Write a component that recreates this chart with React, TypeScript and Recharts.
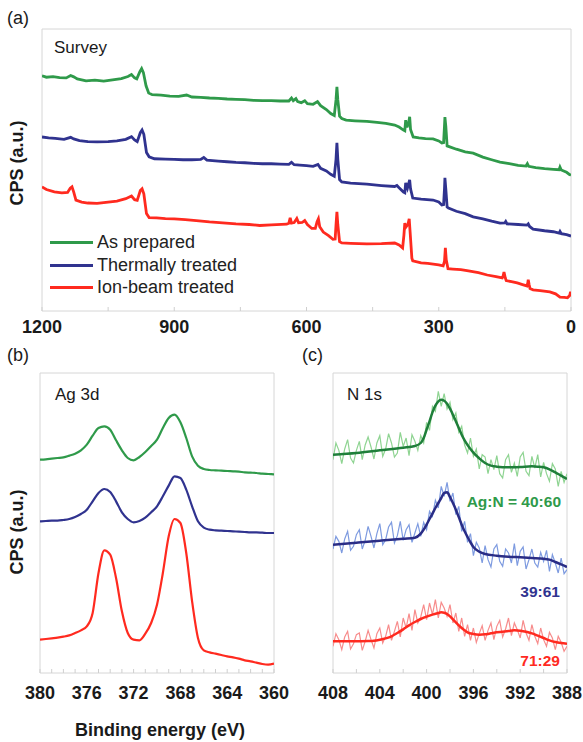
import React from "react"
import { LineChart, Line, XAxis, YAxis, ReferenceArea } from "recharts"

const FONT = "'Liberation Sans', Arial, sans-serif"

const GREEN = "#2f9a4a"
const BLUE = "#30338f"
const RED = "#ff2a1f"
const GREEN_FIT = "#1f7f3a"
const BLUE_FIT = "#2a2d86"
const GREEN_RAW = "#8fd492"
const BLUE_RAW = "#7e9be0"
const RED_RAW = "#f78c8c"

const seriesNames = ["As prepared", "Thermally treated", "Ion-beam treated"]
const ratioLabels = ["Ag:N = 40:60", "39:61", "71:29"]

const surveyTicks = [1200, 1050, 900, 750, 600, 450, 300, 150, 0]
const ag3dTicks = [380, 379, 378, 377, 376, 375, 374, 373, 372, 371, 370, 369, 368, 367, 366, 365, 364, 363, 362, 361, 360]
const n1sTicks = [408, 406, 404, 402, 400, 398, 396, 394, 392, 390, 388]

// survey, [binding energy, counts a.u.]
const surveyAsPrepared = [
  [1200, 712], [1190, 708], [1175, 710], [1160, 707], [1145, 706], [1135, 713], [1128, 709], [1120, 703],
  [1100, 697], [1080, 699], [1060, 696], [1040, 700], [1020, 704], [1005, 710], [997, 716], [990, 706],
  [985, 703], [978, 725], [974, 734], [970, 722], [964, 682], [958, 660], [950, 655], [930, 654],
  [910, 651], [890, 650], [872, 654], [860, 648], [840, 647], [820, 645], [800, 644], [780, 642],
  [760, 641], [740, 640], [720, 638], [700, 637], [680, 637], [660, 636], [640, 636], [634, 645],
  [630, 637], [624, 643], [620, 634], [612, 631], [604, 637], [598, 628], [585, 626], [575, 634],
  [568, 622], [555, 610], [545, 598], [537, 592], [533, 640], [531, 679], [529, 640], [525, 590],
  [520, 583], [510, 578], [490, 576], [463, 574], [440, 571], [420, 568], [400, 563], [390, 557],
  [380, 548], [377, 546], [375, 578], [372, 556], [368, 572], [366, 588], [364, 550], [358, 527],
  [345, 524], [330, 522], [313, 521], [300, 515], [293, 509], [289, 510], [287, 560], [286, 587],
  [284, 560], [281, 500], [275, 497], [260, 490], [240, 482], [222, 478], [200, 466], [180, 458],
  [161, 451], [140, 446], [120, 441], [102, 439], [99, 446], [96, 438], [80, 434], [60, 431],
  [40, 429], [27, 428], [25, 436], [22, 427], [10, 420], [3, 413], [0, 412],
]

const surveyThermal = [
  [1200, 527], [1185, 524], [1170, 523], [1150, 520], [1135, 526], [1128, 521], [1115, 516], [1096, 513],
  [1075, 512], [1050, 513], [1030, 515], [1010, 520], [997, 528], [990, 518], [984, 513], [977, 540],
  [973, 548], [969, 535], [963, 480], [957, 467], [945, 461], [920, 460], [900, 459], [880, 458],
  [860, 458], [840, 459], [833, 465], [826, 457], [800, 454], [780, 452], [760, 450], [740, 449],
  [720, 447], [700, 446], [680, 446], [660, 445], [640, 444], [634, 450], [628, 443], [615, 442],
  [600, 440], [585, 438], [574, 444], [568, 432], [555, 424], [545, 414], [537, 408], [533, 460],
  [531, 509], [529, 460], [525, 398], [520, 391], [500, 387], [463, 384], [430, 380], [400, 377],
  [395, 380], [390, 373], [380, 360], [377, 358], [375, 388], [371, 372], [366, 397], [364, 370],
  [359, 342], [340, 339], [313, 336], [300, 330], [293, 321], [289, 322], [287, 370], [286, 403],
  [284, 370], [281, 315], [278, 312], [260, 302], [240, 295], [222, 285], [200, 279], [180, 272],
  [161, 266], [150, 267], [148, 271], [145, 264], [120, 262], [100, 260], [97, 264], [94, 256],
  [86, 248], [60, 243], [40, 240], [27, 236], [25, 241], [22, 234], [10, 231], [0, 227],
]

const surveyIonBeam = [
  [1200, 376], [1190, 368], [1172, 361], [1155, 358], [1142, 359], [1136, 372], [1132, 376], [1128, 360],
  [1123, 336], [1110, 330], [1096, 327], [1075, 326], [1050, 330], [1030, 333], [1010, 340], [997, 348],
  [990, 337], [984, 335], [977, 365], [973, 370], [969, 355], [963, 295], [957, 283], [940, 282],
  [920, 280], [900, 279], [875, 277], [850, 274], [820, 270], [790, 267], [760, 264], [730, 262],
  [706, 259], [680, 261], [645, 263], [640, 266], [637, 282], [634, 266], [628, 268], [622, 280],
  [618, 267], [610, 268], [604, 274], [598, 262], [588, 250], [580, 250], [576, 270], [573, 279],
  [570, 255], [562, 239], [550, 228], [540, 217], [535, 218], [533, 262], [531, 300], [529, 262],
  [525, 210], [520, 206], [500, 205], [463, 203], [430, 204], [400, 206], [390, 200], [382, 191],
  [379, 230], [377, 266], [374, 255], [370, 262], [367, 279], [365, 240], [361, 160], [359, 152],
  [340, 146], [325, 144], [300, 140], [290, 137], [287, 150], [285, 191], [283, 155], [279, 128],
  [268, 127], [250, 125], [236, 122], [210, 116], [190, 109], [170, 104], [156, 100], [154, 106],
  [152, 118], [149, 100], [147, 92], [135, 89], [122, 85], [110, 80], [100, 76], [98, 85],
  [97, 95], [95, 80], [93, 68], [86, 64], [70, 62], [48, 58], [35, 52], [25, 42],
  [15, 41], [8, 40], [3, 47], [1, 58], [0, 52],
]

// Ag 3d
const agEnergy = [
  380, 379.5, 379, 378.5, 378, 377.5, 377, 376.5, 376, 375.5, 375, 374.5, 374, 373.5, 373, 372.5, 372,
  371.5, 371, 370.5, 370, 369.5, 369, 368.5, 368, 367.5, 367, 366.5, 366, 365.5, 365, 364.5, 364,
  363.5, 363, 362.5, 362, 361.5, 361, 360.5, 360,
]
const agAsPrepared = [
  640, 641, 643, 645, 647, 652, 658, 668, 685, 712, 735, 740, 730, 698, 668, 645, 638,
  648, 663, 681, 700, 735, 765, 775, 752, 705, 650, 622, 612, 609, 608, 607, 606,
  605, 604, 602, 601, 600, 598, 597, 596,
]
const agThermal = [
  455, 456, 457, 457, 459, 462, 468, 477, 490, 515, 540, 552, 543, 515, 482, 462, 452,
  456, 466, 482, 500, 530, 562, 590, 585, 550, 500, 455, 436, 430, 428, 427, 426,
  425, 424, 423, 422, 422, 421, 420, 420,
]
const agIonBeam = [
  100, 102, 104, 106, 109, 113, 120, 128, 140, 180, 300, 368, 355, 285, 185, 120, 100,
  98, 118, 150, 205, 300, 410, 462, 450, 360, 215, 105, 68, 62, 58, 54, 50,
  47, 43, 38, 35, 31, 27, 25, 28,
]

// N 1s raw counts
const nEnergy = [
  408, 407.75, 407.5, 407.25, 407, 406.75, 406.5, 406.25, 406, 405.75, 405.5, 405.25, 405, 404.75,
  404.5, 404.25, 404, 403.75, 403.5, 403.25, 403, 402.75, 402.5, 402.25, 402, 401.75, 401.5, 401.25,
  401, 400.75, 400.5, 400.25, 400, 399.75, 399.5, 399.25, 399, 398.75, 398.5, 398.25, 398, 397.75,
  397.5, 397.25, 397, 396.75, 396.5, 396.25, 396, 395.75, 395.5, 395.25, 395, 394.75, 394.5, 394.25,
  394, 393.75, 393.5, 393.25, 393, 392.75, 392.5, 392.25, 392, 391.75, 391.5, 391.25, 391, 390.75,
  390.5, 390.25, 390, 389.75, 389.5, 389.25, 389, 388.75, 388.5, 388.25, 388,
]
const nRawAsPrepared = [
  640, 690, 668, 628, 672, 700, 645, 630, 668, 695, 640, 684, 708, 678,
  642, 690, 712, 650, 672, 718, 690, 648, 660, 722, 680, 705, 652, 715,
  695, 668, 712, 690, 752, 728, 800, 785, 845, 800, 838, 792, 812, 760,
  780, 722, 740, 684, 660, 705, 650, 672, 612, 655, 648, 598, 640, 610,
  652, 598, 585, 640, 655, 602, 630, 590, 648, 662, 605, 592, 650, 615,
  655, 588, 632, 598, 575, 628, 612, 560, 605, 572, 598,
]
const nRawThermal = [
  372, 410, 395, 360, 402, 425, 368, 380, 415, 430, 372, 398, 440, 410,
  375, 418, 448, 385, 400, 438, 452, 390, 412, 455, 398, 430, 445, 392,
  420, 448, 410, 452, 430, 485, 470, 518, 495, 560, 530, 572, 515, 540,
  475, 500, 425, 455, 392, 418, 352, 392, 375, 330, 382, 340, 318, 372,
  385, 335, 320, 372, 360, 330, 388, 322, 365, 378, 312, 340, 372, 330,
  318, 362, 335, 368, 305, 355, 330, 300, 345, 298, 310,
]
const nRawIonBeam = [
  80, 118, 100, 70, 108, 125, 72, 88, 115, 120, 68, 95, 128, 100,
  75, 118, 135, 90, 110, 145, 98, 125, 155, 108, 165, 135, 178, 128,
  190, 150, 168, 205, 160, 210, 175, 220, 165, 212, 195, 170, 205, 150,
  180, 125, 165, 110, 145, 98, 135, 92, 118, 142, 98, 128, 150, 100,
  140, 158, 108, 132, 165, 112, 150, 130, 105, 158, 120, 98, 145, 110,
  88, 135, 100, 80, 122, 105, 70, 110, 92, 65, 80,
]

// N 1s fitted envelopes
const nFitAsPrepared = [
  [408, 655], [406, 660], [404, 668], [402, 676], [401, 681], [400.5, 690], [400.25, 705], [400, 730],
  [399.75, 755], [399.5, 782], [399.25, 802], [399, 815], [398.75, 820], [398.5, 817], [398.25, 808],
  [398, 793], [397.75, 775], [397.5, 755], [397.25, 735], [397, 715], [396.75, 698], [396.5, 684],
  [396.25, 672], [396, 661], [395.5, 644], [395, 630], [394.5, 622], [394, 619], [393, 617], [392, 618],
  [391, 620], [390.5, 619], [390, 617], [389.5, 611], [389, 602], [388.5, 592], [388, 582],
]
const nFitThermal = [
  [408, 385], [406, 391], [404, 397], [402, 403], [401, 406], [400.5, 418], [400.25, 430], [400, 445],
  [399.75, 462], [399.5, 478], [399.25, 495], [399, 510], [398.75, 525], [398.5, 540], [398.25, 542],
  [398, 528], [397.75, 510], [397.5, 490], [397.25, 468], [397, 445], [396.75, 425], [396.5, 408],
  [396.25, 392], [396, 378], [395.5, 364], [395, 357], [394, 352], [393, 349], [392, 347], [391, 345],
  [390, 343], [389.5, 340], [389, 333], [388.5, 326], [388, 318],
]
const nFitIonBeam = [
  [408, 95], [406, 95], [405, 96], [404.5, 97], [404, 100], [403.5, 104], [403, 110], [402.5, 120],
  [402, 131], [401.5, 143], [401, 153], [400.5, 162], [400, 169], [399.5, 175], [399, 180], [398.75, 182],
  [398.5, 181], [398.25, 177], [398, 170], [397.75, 161], [397.5, 152], [397.25, 143], [397, 135],
  [396.75, 128], [396.5, 122], [396, 117], [395.5, 115], [395, 116], [394.5, 119], [394, 122],
  [393, 126], [392.5, 128], [392, 127], [391.5, 124], [391, 119], [390.5, 112], [390, 105],
  [389.5, 98], [389, 93], [388.5, 90], [388, 88],
]

const toPts = (pairs: number[][]) => pairs.map(([e, v]) => ({ e, v }))
const zipPts = (es: number[], vs: number[]) => es.map((e, i) => ({ e, v: vs[i] }))

function makeTick(labelEvery: number, labelDy: number) {
  return (props: any) => {
    const { x, y, payload } = props
    const v = payload.value
    const labelled = Math.abs(v % labelEvery) < 1e-6
    return (
      <g>
        <line x1={x} x2={x} y1={y} y2={y - 4} stroke="#cfcfcf" strokeWidth={1} />
        {labelled && (
          <text x={x} y={y + labelDy} textAnchor="middle" fontSize={18} fontWeight="bold" fill="#1a1a1a" fontFamily={FONT}>
            {v}
          </text>
        )}
      </g>
    )
  }
}

function Txt({ x, y, size = 17, bold = false, color = "#1a1a1a", align = "left", children }: any) {
  const style: React.CSSProperties = {
    position: "absolute",
    top: y - 12,
    lineHeight: "24px",
    fontSize: size,
    fontWeight: bold ? "bold" : "normal",
    color,
    fontFamily: FONT,
    whiteSpace: "nowrap",
  }
  if (align === "right") style.right = 583 - x
  else if (align === "center") {
    style.left = x
    style.transform = "translateX(-50%)"
  } else style.left = x
  return <div style={style}>{children}</div>
}

function YTitle({ cx, cy }: { cx: number; cy: number }) {
  return (
    <div
      style={{
        position: "absolute",
        left: cx,
        top: cy,
        transform: "translate(-50%, -50%) rotate(-90deg)",
        fontSize: 18,
        fontWeight: "bold",
        fontFamily: FONT,
        color: "#1a1a1a",
        whiteSpace: "nowrap",
      }}
    >
      CPS (a.u.)
    </div>
  )
}

const box = "#d6d6d6"

export default function App() {
  return (
    <div style={{ position: "absolute", left: 0, top: 0, width: 583, height: 742, background: "#fff" }}>
      {/* (a) survey */}
      <div style={{ position: "absolute", left: 0, top: 0 }}>
        <LineChart width={583} height={339} margin={{ top: 29, right: 12, left: 42, bottom: 0 }}>
          <XAxis
            type="number"
            dataKey="e"
            domain={[0, 1200]}
            reversed
            ticks={surveyTicks}
            interval={0}
            tickSize={0}
            tickMargin={0}
            axisLine={false}
            tickLine={false}
            height={28}
            tick={makeTick(300, 22)}
            allowDataOverflow
          />
          <YAxis type="number" dataKey="v" domain={[0, 854]} hide allowDataOverflow />
          <ReferenceArea x1={0} x2={1200} y1={0} y2={854} fill="none" stroke={box} strokeWidth={1} />
          <Line data={toPts(surveyAsPrepared)} dataKey="v" type="linear" stroke={GREEN} strokeWidth={2.8} dot={false} isAnimationActive={false} />
          <Line data={toPts(surveyThermal)} dataKey="v" type="linear" stroke={BLUE} strokeWidth={2.8} dot={false} isAnimationActive={false} />
          <Line data={toPts(surveyIonBeam)} dataKey="v" type="linear" stroke={RED} strokeWidth={2.8} dot={false} isAnimationActive={false} />
        </LineChart>
      </div>
      <Txt x={7} y={18} size={18}>(a)</Txt>
      <Txt x={54} y={48} size={17}>Survey</Txt>
      {seriesNames.map((n, i) => (
        <React.Fragment key={n}>
          <div style={{ position: "absolute", left: 50, top: 241 + i * 22.5, width: 43, height: 3, background: [GREEN, BLUE, RED][i] }} />
          <Txt x={97} y={242 + i * 22.5} size={18} color="#222">{n}</Txt>
        </React.Fragment>
      ))}
      <YTitle cx={17} cy={163} />

      {/* (b) Ag 3d */}
      <div style={{ position: "absolute", left: 0, top: 340 }}>
        <LineChart width={300} height={363} margin={{ top: 33, right: 26, left: 40, bottom: 0 }}>
          <XAxis
            type="number"
            dataKey="e"
            domain={[360, 380]}
            reversed
            ticks={ag3dTicks}
            interval={0}
            tickSize={0}
            tickMargin={0}
            axisLine={false}
            tickLine={false}
            height={30}
            tick={makeTick(4, 26)}
            allowDataOverflow
          />
          <YAxis type="number" dataKey="v" domain={[0, 900]} hide allowDataOverflow />
          <ReferenceArea x1={360} x2={380} y1={0} y2={900} fill="none" stroke={box} strokeWidth={1} />
          <Line data={zipPts(agEnergy, agAsPrepared)} dataKey="v" type="monotone" stroke={GREEN} strokeWidth={2.2} dot={false} isAnimationActive={false} />
          <Line data={zipPts(agEnergy, agThermal)} dataKey="v" type="monotone" stroke={BLUE} strokeWidth={2.2} dot={false} isAnimationActive={false} />
          <Line data={zipPts(agEnergy, agIonBeam)} dataKey="v" type="monotone" stroke={RED} strokeWidth={2.2} dot={false} isAnimationActive={false} />
        </LineChart>
      </div>
      <Txt x={7} y={355} size={18}>(b)</Txt>
      <Txt x={55} y={395} size={17}>Ag 3d</Txt>
      <YTitle cx={17} cy={532} />
      <Txt x={160} y={730} size={18} bold align="center">Binding energy (eV)</Txt>

      {/* (c) N 1s */}
      <div style={{ position: "absolute", left: 290, top: 340 }}>
        <LineChart width={293} height={363} margin={{ top: 33, right: 16, left: 43, bottom: 0 }}>
          <XAxis
            type="number"
            dataKey="e"
            domain={[388, 408]}
            reversed
            ticks={n1sTicks}
            interval={0}
            tickSize={0}
            tickMargin={0}
            axisLine={false}
            tickLine={false}
            height={30}
            tick={makeTick(4, 26)}
            allowDataOverflow
          />
          <YAxis type="number" dataKey="v" domain={[0, 900]} hide allowDataOverflow />
          <ReferenceArea x1={388} x2={408} y1={0} y2={900} fill="none" stroke={box} strokeWidth={1} />
          <Line data={zipPts(nEnergy, nRawAsPrepared)} dataKey="v" type="linear" stroke={GREEN_RAW} strokeWidth={1.2} dot={false} isAnimationActive={false} />
          <Line data={zipPts(nEnergy, nRawThermal)} dataKey="v" type="linear" stroke={BLUE_RAW} strokeWidth={1.2} dot={false} isAnimationActive={false} />
          <Line data={zipPts(nEnergy, nRawIonBeam)} dataKey="v" type="linear" stroke={RED_RAW} strokeWidth={1.2} dot={false} isAnimationActive={false} />
          <Line data={toPts(nFitAsPrepared)} dataKey="v" type="monotone" stroke={GREEN_FIT} strokeWidth={2.5} dot={false} isAnimationActive={false} />
          <Line data={toPts(nFitThermal)} dataKey="v" type="monotone" stroke={BLUE_FIT} strokeWidth={2.5} dot={false} isAnimationActive={false} />
          <Line data={toPts(nFitIonBeam)} dataKey="v" type="monotone" stroke={RED} strokeWidth={2.5} dot={false} isAnimationActive={false} />
        </LineChart>
      </div>
      <Txt x={302} y={355} size={18}>(c)</Txt>
      <Txt x={347} y={395} size={17}>N 1s</Txt>
      <Txt x={561} y={502} size={15.5} bold color={GREEN} align="right">{ratioLabels[0]}</Txt>
      <Txt x={560} y={592} size={15.5} bold color={BLUE} align="right">{ratioLabels[1]}</Txt>
      <Txt x={560} y={661} size={15.5} bold color={RED} align="right">{ratioLabels[2]}</Txt>
    </div>
  )
}
